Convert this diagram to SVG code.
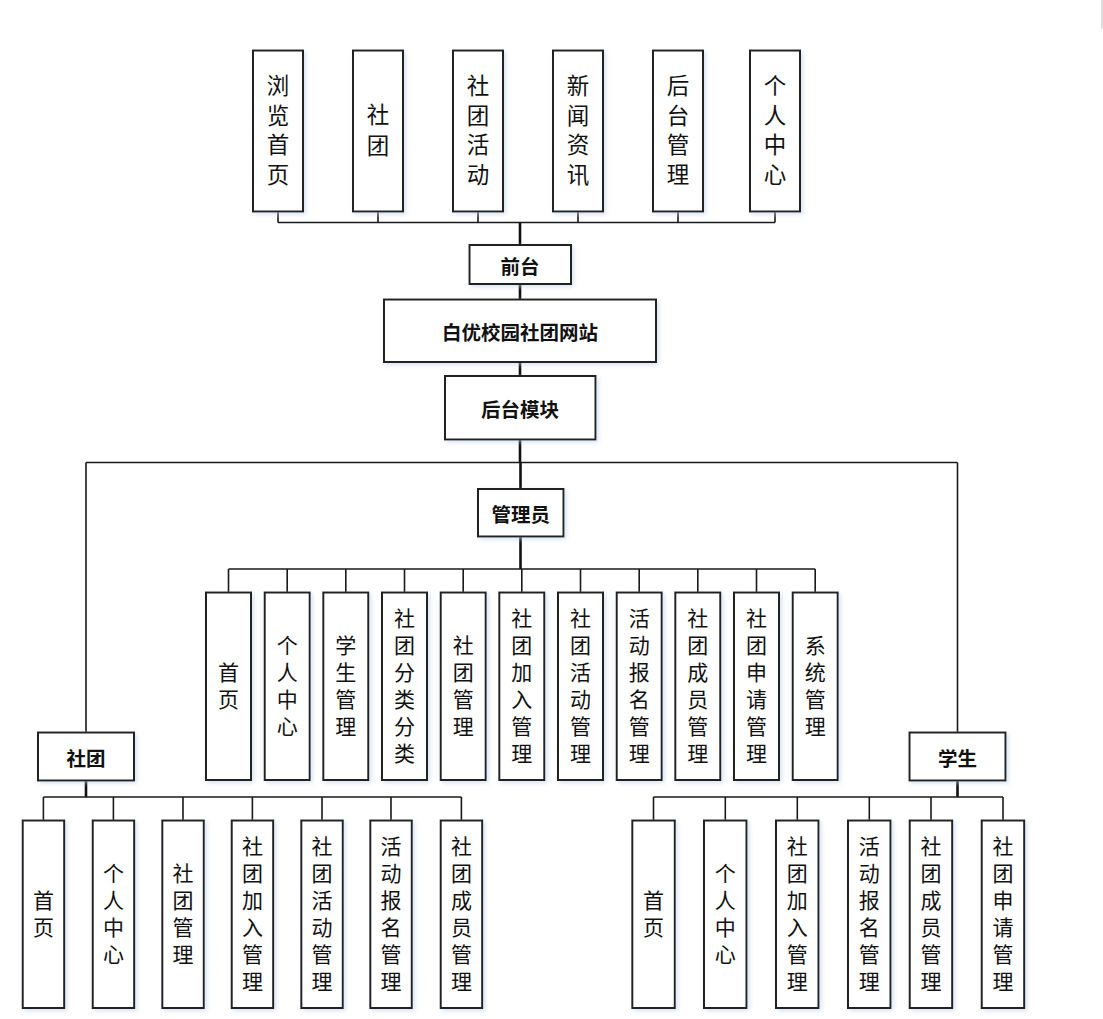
<svg xmlns="http://www.w3.org/2000/svg" width="1103" height="1019" viewBox="0 0 1103 1019">
<style>
.box{fill:#fff;stroke:#222;stroke-width:2;filter:url(#sh)}
.ln{fill:none;stroke:#1a1a1a;stroke-width:1.6}
.stem{fill:none;stroke:#111;stroke-width:2.6}
.v{font-family:"Liberation Sans","Noto Sans CJK SC",sans-serif;font-size:21px;fill:#111;text-anchor:middle;dominant-baseline:central}
.vt{font-size:22.5px}
.h{font-family:"Noto Sans CJK SC","Noto Sans",sans-serif;font-size:19.5px;font-weight:bold;fill:#111;text-anchor:middle;dominant-baseline:central}
</style>
<defs>
<filter id="sh" x="-20%" y="-20%" width="140%" height="140%">
<feDropShadow dx="2" dy="2" stdDeviation="2" flood-color="#b9cde6" flood-opacity="0.55"/>
</filter>
</defs>
<rect width="1103" height="1019" fill="#fff"/>
<line x1="1102" y1="0" x2="1102" y2="29" stroke="#bbb" stroke-width="1"/>

<g id="connectors">
<path class="ln" d="M278 211.5V222.5M378 211.5V222.5M478 211.5V222.5M578 211.5V222.5M678 211.5V222.5M775 211.5V222.5M278 222.5H775"/>
<path class="stem" d="M520 222.5V245M520 284V299.5M520 362V376M520 439.5V462.5"/>
<path class="ln" d="M86 462.5H957.5M86 462.5V732.5M957.5 462.5V732.5"/>
<path class="stem" d="M520.5 462.5V489M520.5 536.5V569"/>
<path class="ln" d="M228.5 569H815.2M228.5 569V592.5M287.2 569V592.5M345.8 569V592.5M404.5 569V592.5M463.2 569V592.5M521.8 569V592.5M580.5 569V592.5M639.2 569V592.5M697.8 569V592.5M756.5 569V592.5M815.2 569V592.5"/>
<path class="stem" d="M86 780.5V797M957.5 780.5V797"/>
<path class="ln" d="M43.4 797H461.4M43.4 797V820.5M113.4 797V820.5M183 797V820.5M252.4 797V820.5M322 797V820.5M391 797V820.5M461.4 797V820.5"/>
<path class="ln" d="M653.5 797H1003M653.5 797V820.5M725.3 797V820.5M797.3 797V820.5M869.3 797V820.5M931 797V820.5M1003 797V820.5"/>
</g>

<g id="n-liulan"><rect class="box" x="253" y="50.5" width="50" height="161"/>
<text class="v vt" x="278" y="86.75">浏</text><text class="v vt" x="278" y="116.25">览</text><text class="v vt" x="278" y="145.75">首</text><text class="v vt" x="278" y="175.25">页</text></g>
<g id="n-shetuan-top"><rect class="box" x="353" y="50.5" width="50" height="161"/>
<text class="v vt" x="378" y="115">社</text><text class="v vt" x="378" y="146">团</text></g>
<g id="n-huodong-top"><rect class="box" x="453" y="50.5" width="50" height="161"/>
<text class="v vt" x="478" y="86.75">社</text><text class="v vt" x="478" y="116.25">团</text><text class="v vt" x="478" y="145.75">活</text><text class="v vt" x="478" y="175.25">动</text></g>
<g id="n-xinwen"><rect class="box" x="553" y="50.5" width="50" height="161"/>
<text class="v vt" x="578" y="86.75">新</text><text class="v vt" x="578" y="116.25">闻</text><text class="v vt" x="578" y="145.75">资</text><text class="v vt" x="578" y="175.25">讯</text></g>
<g id="n-houtaiguanli"><rect class="box" x="653" y="50.5" width="50" height="161"/>
<text class="v vt" x="678" y="86.75">后</text><text class="v vt" x="678" y="116.25">台</text><text class="v vt" x="678" y="145.75">管</text><text class="v vt" x="678" y="175.25">理</text></g>
<g id="n-geren-top"><rect class="box" x="750" y="50.5" width="50" height="161"/>
<text class="v vt" x="775" y="86.75">个</text><text class="v vt" x="775" y="116.25">人</text><text class="v vt" x="775" y="145.75">中</text><text class="v vt" x="775" y="175.25">心</text></g>

<g id="n-qiantai"><rect class="box" x="469.5" y="245" width="101.5" height="39"/><text class="h" x="520" y="265">前台</text></g>
<g id="n-site"><rect class="box" x="384" y="299.5" width="272" height="62.5"/><text class="h" x="520" y="331">白优校园社团网站</text></g>
<g id="n-houtai"><rect class="box" x="445" y="376" width="150.5" height="63.5"/><text class="h" x="520" y="408">后台模块</text></g>
<g id="n-admin"><rect class="box" x="478" y="489" width="85.5" height="47.5"/><text class="h" x="520.8" y="513">管理员</text></g>
<g id="n-club"><rect class="box" x="38" y="732.5" width="96" height="48"/><text class="h" x="86" y="757">社团</text></g>
<g id="n-student"><rect class="box" x="909.5" y="732.5" width="96" height="48"/><text class="h" x="957.5" y="757">学生</text></g>

<g id="a1"><rect class="box" x="206" y="592.5" width="45" height="187.5"/>
<text class="v" x="228.5" y="672.5">首</text><text class="v" x="228.5" y="699.5">页</text></g>
<g id="a2"><rect class="box" x="264.7" y="592.5" width="45" height="187.5"/>
<text class="v" x="287.2" y="645.5">个</text><text class="v" x="287.2" y="672.5">人</text><text class="v" x="287.2" y="699.5">中</text><text class="v" x="287.2" y="726.5">心</text></g>
<g id="a3"><rect class="box" x="323.3" y="592.5" width="45" height="187.5"/>
<text class="v" x="345.8" y="645.5">学</text><text class="v" x="345.8" y="672.5">生</text><text class="v" x="345.8" y="699.5">管</text><text class="v" x="345.8" y="726.5">理</text></g>
<g id="a4"><rect class="box" x="382" y="592.5" width="45" height="187.5"/>
<text class="v" x="404.5" y="618.5">社</text><text class="v" x="404.5" y="645.5">团</text><text class="v" x="404.5" y="672.5">分</text><text class="v" x="404.5" y="699.5">类</text><text class="v" x="404.5" y="726.5">分</text><text class="v" x="404.5" y="753.5">类</text></g>
<g id="a5"><rect class="box" x="440.7" y="592.5" width="45" height="187.5"/>
<text class="v" x="463.2" y="645.5">社</text><text class="v" x="463.2" y="672.5">团</text><text class="v" x="463.2" y="699.5">管</text><text class="v" x="463.2" y="726.5">理</text></g>
<g id="a6"><rect class="box" x="499.3" y="592.5" width="45" height="187.5"/>
<text class="v" x="521.8" y="618.5">社</text><text class="v" x="521.8" y="645.5">团</text><text class="v" x="521.8" y="672.5">加</text><text class="v" x="521.8" y="699.5">入</text><text class="v" x="521.8" y="726.5">管</text><text class="v" x="521.8" y="753.5">理</text></g>
<g id="a7"><rect class="box" x="558" y="592.5" width="45" height="187.5"/>
<text class="v" x="580.5" y="618.5">社</text><text class="v" x="580.5" y="645.5">团</text><text class="v" x="580.5" y="672.5">活</text><text class="v" x="580.5" y="699.5">动</text><text class="v" x="580.5" y="726.5">管</text><text class="v" x="580.5" y="753.5">理</text></g>
<g id="a8"><rect class="box" x="616.7" y="592.5" width="45" height="187.5"/>
<text class="v" x="639.2" y="618.5">活</text><text class="v" x="639.2" y="645.5">动</text><text class="v" x="639.2" y="672.5">报</text><text class="v" x="639.2" y="699.5">名</text><text class="v" x="639.2" y="726.5">管</text><text class="v" x="639.2" y="753.5">理</text></g>
<g id="a9"><rect class="box" x="675.3" y="592.5" width="45" height="187.5"/>
<text class="v" x="697.8" y="618.5">社</text><text class="v" x="697.8" y="645.5">团</text><text class="v" x="697.8" y="672.5">成</text><text class="v" x="697.8" y="699.5">员</text><text class="v" x="697.8" y="726.5">管</text><text class="v" x="697.8" y="753.5">理</text></g>
<g id="a10"><rect class="box" x="734" y="592.5" width="45" height="187.5"/>
<text class="v" x="756.5" y="618.5">社</text><text class="v" x="756.5" y="645.5">团</text><text class="v" x="756.5" y="672.5">申</text><text class="v" x="756.5" y="699.5">请</text><text class="v" x="756.5" y="726.5">管</text><text class="v" x="756.5" y="753.5">理</text></g>
<g id="a11"><rect class="box" x="792.7" y="592.5" width="45" height="187.5"/>
<text class="v" x="815.2" y="645.5">系</text><text class="v" x="815.2" y="672.5">统</text><text class="v" x="815.2" y="699.5">管</text><text class="v" x="815.2" y="726.5">理</text></g>

<g id="c1"><rect class="box" x="22.7" y="820.5" width="41.5" height="187.5"/>
<text class="v" x="43.4" y="900.5">首</text><text class="v" x="43.4" y="927.5">页</text></g>
<g id="c2"><rect class="box" x="92.7" y="820.5" width="41.5" height="187.5"/>
<text class="v" x="113.4" y="873.5">个</text><text class="v" x="113.4" y="900.5">人</text><text class="v" x="113.4" y="927.5">中</text><text class="v" x="113.4" y="954.5">心</text></g>
<g id="c3"><rect class="box" x="162.3" y="820.5" width="41.5" height="187.5"/>
<text class="v" x="183" y="873.5">社</text><text class="v" x="183" y="900.5">团</text><text class="v" x="183" y="927.5">管</text><text class="v" x="183" y="954.5">理</text></g>
<g id="c4"><rect class="box" x="231.7" y="820.5" width="41.5" height="187.5"/>
<text class="v" x="252.4" y="846.5">社</text><text class="v" x="252.4" y="873.5">团</text><text class="v" x="252.4" y="900.5">加</text><text class="v" x="252.4" y="927.5">入</text><text class="v" x="252.4" y="954.5">管</text><text class="v" x="252.4" y="981.5">理</text></g>
<g id="c5"><rect class="box" x="301.3" y="820.5" width="41.5" height="187.5"/>
<text class="v" x="322" y="846.5">社</text><text class="v" x="322" y="873.5">团</text><text class="v" x="322" y="900.5">活</text><text class="v" x="322" y="927.5">动</text><text class="v" x="322" y="954.5">管</text><text class="v" x="322" y="981.5">理</text></g>
<g id="c6"><rect class="box" x="370.3" y="820.5" width="41.5" height="187.5"/>
<text class="v" x="391" y="846.5">活</text><text class="v" x="391" y="873.5">动</text><text class="v" x="391" y="900.5">报</text><text class="v" x="391" y="927.5">名</text><text class="v" x="391" y="954.5">管</text><text class="v" x="391" y="981.5">理</text></g>
<g id="c7"><rect class="box" x="440.7" y="820.5" width="41.5" height="187.5"/>
<text class="v" x="461.4" y="846.5">社</text><text class="v" x="461.4" y="873.5">团</text><text class="v" x="461.4" y="900.5">成</text><text class="v" x="461.4" y="927.5">员</text><text class="v" x="461.4" y="954.5">管</text><text class="v" x="461.4" y="981.5">理</text></g>

<g id="s1"><rect class="box" x="632.3" y="820.5" width="42.5" height="187.5"/>
<text class="v" x="653.5" y="900.5">首</text><text class="v" x="653.5" y="927.5">页</text></g>
<g id="s2"><rect class="box" x="704" y="820.5" width="42.5" height="187.5"/>
<text class="v" x="725.3" y="873.5">个</text><text class="v" x="725.3" y="900.5">人</text><text class="v" x="725.3" y="927.5">中</text><text class="v" x="725.3" y="954.5">心</text></g>
<g id="s3"><rect class="box" x="776" y="820.5" width="42.5" height="187.5"/>
<text class="v" x="797.3" y="846.5">社</text><text class="v" x="797.3" y="873.5">团</text><text class="v" x="797.3" y="900.5">加</text><text class="v" x="797.3" y="927.5">入</text><text class="v" x="797.3" y="954.5">管</text><text class="v" x="797.3" y="981.5">理</text></g>
<g id="s4"><rect class="box" x="848" y="820.5" width="42.5" height="187.5"/>
<text class="v" x="869.3" y="846.5">活</text><text class="v" x="869.3" y="873.5">动</text><text class="v" x="869.3" y="900.5">报</text><text class="v" x="869.3" y="927.5">名</text><text class="v" x="869.3" y="954.5">管</text><text class="v" x="869.3" y="981.5">理</text></g>
<g id="s5"><rect class="box" x="909.7" y="820.5" width="42.5" height="187.5"/>
<text class="v" x="931" y="846.5">社</text><text class="v" x="931" y="873.5">团</text><text class="v" x="931" y="900.5">成</text><text class="v" x="931" y="927.5">员</text><text class="v" x="931" y="954.5">管</text><text class="v" x="931" y="981.5">理</text></g>
<g id="s6"><rect class="box" x="981.7" y="820.5" width="42.5" height="187.5"/>
<text class="v" x="1003" y="846.5">社</text><text class="v" x="1003" y="873.5">团</text><text class="v" x="1003" y="900.5">申</text><text class="v" x="1003" y="927.5">请</text><text class="v" x="1003" y="954.5">管</text><text class="v" x="1003" y="981.5">理</text></g>
</svg>
